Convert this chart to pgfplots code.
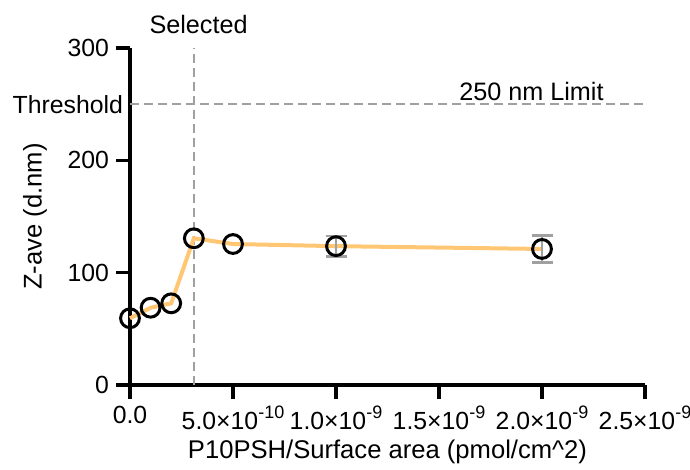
\documentclass[border=0pt]{standalone}
\usepackage{fontspec}
\setmainfont{Liberation Sans}
\usepackage{pgfplots}
\pgfplotsset{compat=1.18}
\definecolor{lineor}{RGB}{255,198,115}
\definecolor{dgray}{RGB}{160,160,160}
\newcommand{\mysup}[1]{\raisebox{0.45em}{\fontsize{9}{10}\selectfont #1}}
\begin{document}
\begin{tikzpicture}
\begin{axis}[
  scale only axis, width=257.5pt, height=168.5pt,
  xmin=0, xmax=2.5e-9, ymin=0, ymax=300,
  scaled x ticks=false,
  axis x line*=bottom, axis y line*=left,
  axis line style={line width=1.6pt, black},
  every tick/.style={line width=1.6pt, black},
  tick align=outside, major tick length=7pt,
  font=\fontsize{12.8}{15}\selectfont,
  tick label style={font=\fontsize{12.4}{14}\selectfont},
  xtick={0,5e-10,1e-9,1.5e-9,2e-9,2.5e-9},
  xticklabels={0.0, 5.0×10\mysup{-10}, 1.0×10\mysup{-9}, 1.5×10\mysup{-9}, 2.0×10\mysup{-9}, 2.5×10\mysup{-9}},
  ytick={0,100,200,300},
  yticklabels={0,100,200,300},
  extra y ticks={250}, extra y tick labels={Threshold},
  extra y tick style={major tick length=0pt},
  xlabel={P10PSH/Surface area (pmol/cm\textasciicircum 2)},
  xlabel style={yshift=2pt},
  ylabel={Z-ave (d.nm)},
  ylabel style={at={(axis description cs:-0.1845,0.5)}, anchor=center},
  clip=false,
]
\coordinate (sw) at (rel axis cs:0,0);
\addplot[dgray, line width=1.3pt, dash pattern=on 4.5pt off 2.5pt] coordinates {(0,250) (2.5e-9,250)};
\addplot[dgray, line width=1.3pt, dash pattern=on 4.5pt off 2.5pt] coordinates {(3.1e-10,0) (3.1e-10,300)};
\addplot[lineor, line width=2pt, no marks] coordinates {
  (0,59.4) (1e-10,68.8) (2e-10,72.7) (3.1e-10,130.6) (5e-10,125.5) (1e-9,123.6) (2e-9,121.1)};
\addplot[draw=none, mark=none, error bars/.cd, y dir=both, y explicit,
  error bar style={dgray, line width=1.2pt},
  error mark options={rotate=90, mark size=5.25pt, line width=1.2pt, dgray}]
  coordinates {(1e-9,123.6) +- (0,9.3) (2e-9,121.1) +- (0,11.9)};
\addplot[only marks, mark=o, mark size=4.7pt, mark options={line width=1.5pt, black}] coordinates {
  (0,59.4) (1e-10,68.8) (2e-10,72.7) (3.1e-10,130.6) (5e-10,125.5) (1e-9,123.6) (2e-9,121.1)};
\node[font=\fontsize{12.6}{14}\selectfont] at (axis cs:3.33e-10,320.5) {Selected};
\node[font=\fontsize{12.6}{14}\selectfont] at (axis cs:1.949e-9,261.7) {250 nm Limit};
\end{axis}
\pgfresetboundingbox
\path[use as bounding box] ([xshift=-65pt,yshift=-42.5pt]sw) rectangle ([xshift=280pt,yshift=192.5pt]sw);
\end{tikzpicture}
\end{document}
